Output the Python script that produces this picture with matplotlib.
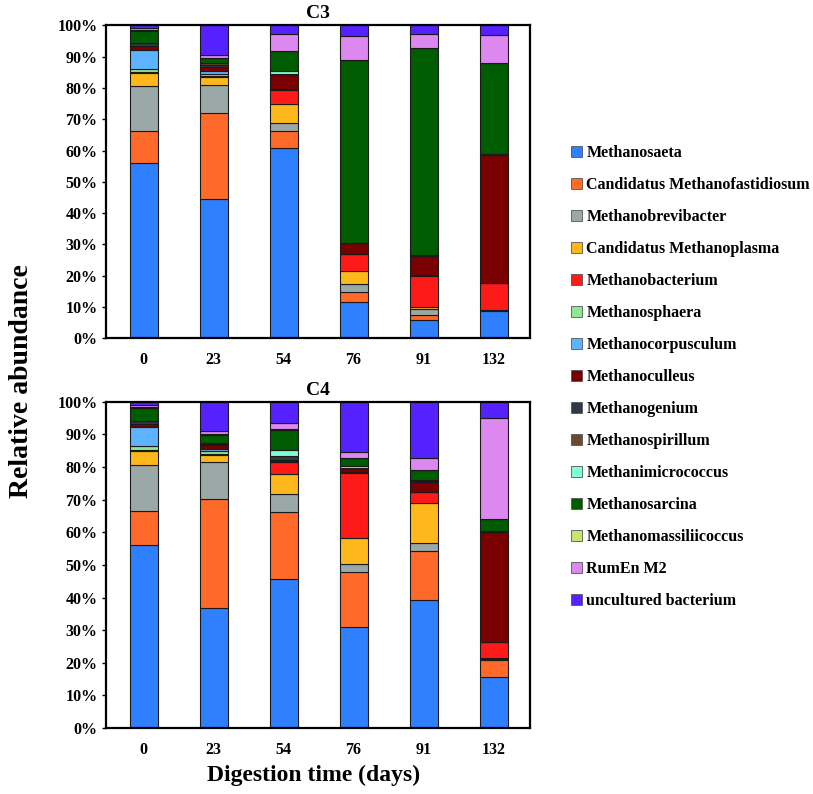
import numpy as np
import matplotlib
matplotlib.use("Agg")
import matplotlib.pyplot as plt
from matplotlib.patches import Patch
from matplotlib.ticker import PercentFormatter

plt.rcParams['font.family'] = ['Liberation Serif', 'DejaVu Serif']
plt.rcParams['font.weight'] = 'bold'

days = ["0", "23", "54", "76", "91", "132"]

genera = ["Methanosaeta", "Candidatus Methanofastidiosum", "Methanobrevibacter",
          "Candidatus Methanoplasma", "Methanobacterium", "Methanosphaera",
          "Methanocorpusculum", "Methanoculleus", "Methanogenium", "Methanospirillum",
          "Methanimicrococcus", "Methanosarcina", "Methanomassiliicoccus",
          "RumEn M2", "uncultured bacterium"]

colors = ["#2f80ff", "#ff6a2a", "#9aa8a8", "#ffb81c", "#ff1a1a", "#8fe88f",
          "#5db3ff", "#7a0000", "#2e3b47", "#6b4a2b", "#7fffd4", "#005c00",
          "#c8e66e", "#dd88ee", "#5522ff"]

# relative abundance (%) per genus, days 0, 23, 54, 76, 91, 132
c3 = {
    "Methanosaeta":                  [56.1, 44.6, 60.8, 11.5, 5.7, 8.8],
    "Candidatus Methanofastidiosum": [10.2, 27.5, 5.5, 3.2, 1.8, 0.1],
    "Methanobrevibacter":            [14.2, 8.7, 2.6, 2.7, 1.9, 0.1],
    "Candidatus Methanoplasma":      [4.3, 2.6, 6.0, 4.0, 0.7, 0.1],
    "Methanobacterium":              [0.4, 0.5, 4.3, 5.4, 9.9, 8.5],
    "Methanosphaera":                [1.0, 0.6, 0.2, 0.1, 0.1, 0.0],
    "Methanocorpusculum":            [6.0, 0.8, 0.3, 0.1, 0.1, 0.1],
    "Methanoculleus":                [1.1, 1.4, 4.5, 3.4, 6.2, 40.9],
    "Methanogenium":                 [1.0, 0.7, 0.2, 0.1, 0.1, 0.1],
    "Methanospirillum":              [0.1, 0.6, 0.1, 0.0, 0.0, 0.0],
    "Methanimicrococcus":            [0.1, 0.1, 0.9, 0.1, 0.1, 0.1],
    "Methanosarcina":                [3.7, 1.4, 6.3, 58.4, 66.2, 29.2],
    "Methanomassiliicoccus":         [0.2, 0.2, 0.1, 0.1, 0.1, 0.1],
    "RumEn M2":                      [0.8, 0.9, 5.3, 7.6, 4.2, 8.8],
    "uncultured bacterium":          [0.8, 9.4, 2.9, 3.3, 2.9, 3.1],
}

c4 = {
    "Methanosaeta":                  [56.2, 36.8, 45.8, 30.9, 39.4, 15.8],
    "Candidatus Methanofastidiosum": [10.4, 33.3, 20.3, 16.9, 15.0, 5.0],
    "Methanobrevibacter":            [13.9, 11.5, 5.5, 2.4, 2.2, 0.4],
    "Candidatus Methanoplasma":      [4.3, 2.0, 6.4, 7.9, 12.5, 0.3],
    "Methanobacterium":              [0.4, 0.4, 3.4, 20.2, 3.1, 4.8],
    "Methanosphaera":                [1.1, 0.8, 0.2, 0.1, 0.2, 0.0],
    "Methanocorpusculum":            [6.1, 0.8, 0.3, 0.1, 0.1, 0.1],
    "Methanoculleus":                [0.7, 1.0, 0.4, 1.1, 2.8, 33.8],
    "Methanogenium":                 [0.9, 0.4, 1.0, 0.1, 0.5, 0.1],
    "Methanospirillum":              [0.1, 0.2, 0.2, 0.1, 0.1, 0.0],
    "Methanimicrococcus":            [0.1, 0.1, 1.6, 0.5, 0.1, 0.1],
    "Methanosarcina":                [3.9, 2.6, 6.4, 2.4, 3.1, 3.7],
    "Methanomassiliicoccus":         [0.2, 0.1, 0.3, 0.2, 0.1, 0.1],
    "RumEn M2":                      [0.6, 0.9, 1.6, 1.8, 3.6, 30.9],
    "uncultured bacterium":          [1.1, 9.1, 6.6, 15.3, 17.2, 4.9],
}


def stacked(ax, data, title):
    x = np.arange(len(days))
    bottom = np.zeros(len(days))
    for name, col in zip(genera, colors):
        vals = np.array(data[name]) / 100.0
        ax.bar(x, vals, 0.40, bottom=bottom, color=col, edgecolor="#1a1a1a",
               linewidth=0.8)
        bottom += vals
    ax.set_xlim(-0.54, 5.52)
    ax.set_ylim(0, 1)
    ax.set_yticks(np.arange(0, 1.01, 0.1))
    ax.yaxis.set_major_formatter(PercentFormatter(1.0, decimals=0))
    ax.set_xticks(x)
    ax.set_xticklabels(days)
    ax.tick_params(axis="x", length=0, pad=10, labelsize=11.5)
    ax.tick_params(axis="y", length=3, width=1, labelsize=11.5, pad=3)
    for s in ax.spines.values():
        s.set_linewidth(1.6)
    ax.set_title(title, fontsize=14, fontweight="bold", pad=5)


fig = plt.figure(figsize=(8.13, 7.94), dpi=100)
ax1 = fig.add_axes([0.130, 0.574, 0.522, 0.394])
ax2 = fig.add_axes([0.130, 0.083, 0.522, 0.411])
stacked(ax1, c3, "C3")
stacked(ax2, c4, "C4")

fig.text(0.027, 0.52, "Relative abundance", rotation=90, fontsize=20,
         fontweight="bold", ha="center", va="center")
fig.text(0.386, 0.024, "Digestion time (days)", fontsize=17,
         fontweight="bold", ha="center", va="center")

handles = [Patch(facecolor=c, edgecolor="#555555", linewidth=0.6) for c in colors]
fig.legend(handles, genera, loc="center left", bbox_to_anchor=(0.685, 0.525),
           frameon=False, fontsize=11.5, handlelength=0.7, handleheight=0.7,
           handletextpad=0.25, labelspacing=1.0)

plt.savefig("out.png", dpi=100)
